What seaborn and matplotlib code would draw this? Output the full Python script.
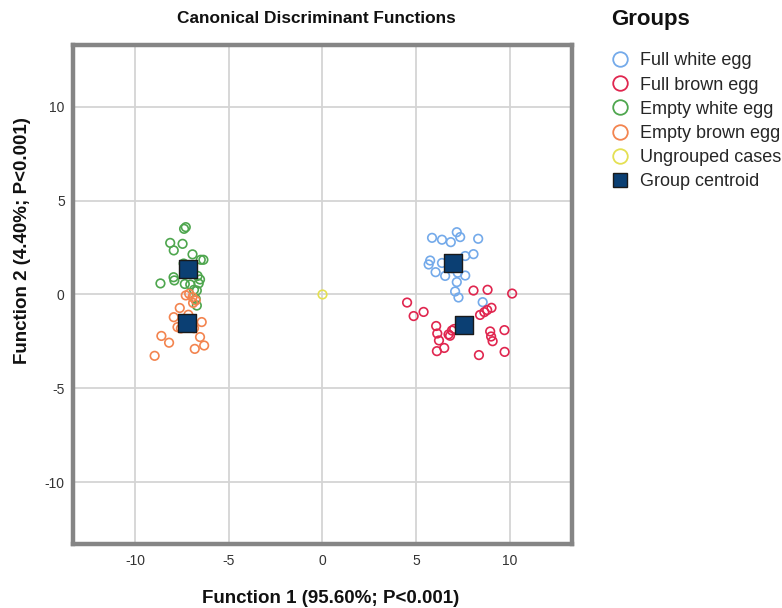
import matplotlib
matplotlib.use("Agg")
import matplotlib.pyplot as plt
from matplotlib.lines import Line2D
import seaborn as sns
import pandas as pd

# ---- data ----
groups = ["Full white egg", "Full brown egg", "Empty white egg", "Empty brown egg", "Ungrouped cases"]

full_white_x = [5.84, 6.37, 6.84, 7.16, 7.34, 8.30, 5.74, 5.66, 6.37, 6.03, 6.54, 7.21, 7.61, 8.05, 7.61, 7.16, 7.07, 7.25, 8.54, 6.90]
full_white_y = [3.02, 2.92, 2.79, 3.32, 3.06, 2.97, 1.81, 1.60, 1.68, 1.19, 0.99, 1.16, 2.05, 2.15, 1.01, 0.66, 0.16, -0.16, -0.41, 1.40]

full_brown_x = [4.51, 4.86, 5.39, 8.05, 8.80, 10.11, 9.01, 8.78, 8.63, 8.40, 6.06, 6.12, 6.21, 6.72, 6.90, 7.02, 8.94, 8.99, 9.07, 9.70, 6.10, 6.49, 8.34, 9.71, 6.80]
full_brown_y = [-0.43, -1.15, -0.93, 0.21, 0.25, 0.05, -0.71, -0.83, -0.94, -1.09, -1.68, -2.08, -2.45, -2.13, -1.92, -1.84, -1.97, -2.24, -2.49, -1.90, -3.02, -2.85, -3.23, -3.06, -2.20]

empty_white_x = [-7.38, -7.29, -8.12, -7.46, -7.93, -6.93, -6.49, -6.35, -8.64, -7.94, -7.90, -7.34, -6.66, -6.53, -6.60, -7.05, -6.85, -6.70, -6.76, -6.70, -7.40]
empty_white_y = [3.50, 3.59, 2.75, 2.70, 2.35, 2.14, 1.85, 1.85, 0.59, 0.92, 0.75, 0.56, 0.99, 0.80, 0.59, 0.53, 0.25, 0.21, -0.23, -0.59, 1.65]

empty_brown_x = [-7.11, -7.29, -6.93, -6.76, -6.90, -7.61, -7.93, -7.15, -7.73, -7.55, -6.85, -6.44, -8.59, -8.18, -6.53, -6.31, -6.81, -8.95]
empty_brown_y = [0.04, -0.05, -0.14, -0.32, -0.45, -0.72, -1.21, -1.08, -1.74, -1.81, -1.80, -1.47, -2.21, -2.57, -2.27, -2.72, -2.90, -3.27]

ungrouped_x = [0.0]
ungrouped_y = [0.0]

centroid_x = [6.97, 7.55, -7.18, -7.23]
centroid_y = [1.67, -1.65, 1.37, -1.51]

x_ticks = [-10, -5, 0, 5, 10]
y_ticks = [-10, -5, 0, 5, 10]

colors = ["#74aaea", "#e0264f", "#4ea64e", "#f3844f", "#e4e052"]
centroid_color = "#0b3f73"

# ---- build table ----
frames = []
for g, xs, ys in zip(groups,
                     [full_white_x, full_brown_x, empty_white_x, empty_brown_x, ungrouped_x],
                     [full_white_y, full_brown_y, empty_white_y, empty_brown_y, ungrouped_y]):
    frames.append(pd.DataFrame({"f1": xs, "f2": ys, "group": g}))
df = pd.concat(frames, ignore_index=True)
cent = pd.DataFrame({"f1": centroid_x, "f2": centroid_y})

sns.set_theme(style="white")
plt.rcParams["font.family"] = ["Liberation Sans", "DejaVu Sans"]

fig = plt.figure(figsize=(7.82, 6.08), dpi=100)
ax = fig.add_axes([0.0934, 0.1053, 0.638, 0.8207])

for g, c in zip(groups, colors):
    sub = df[df["group"] == g]
    sns.scatterplot(data=sub, x="f1", y="f2", ax=ax, s=38, marker="o",
                    color=c, linewidth=1.2, legend=False, zorder=3)
    coll = ax.collections[-1]
    coll.set_facecolor("none")
    coll.set_edgecolor(c)

sns.scatterplot(data=cent, x="f1", y="f2", ax=ax, s=150, marker="s",
                color=centroid_color, edgecolor="#1a1a1a", linewidth=1.0,
                legend=False, zorder=4)

ax.set_xlim(-13.3, 13.3)
ax.set_ylim(-13.3, 13.3)
ax.set_xticks(x_ticks)
ax.set_yticks(y_ticks)
ax.set_xticklabels([str(t) for t in x_ticks])
ax.set_yticklabels([str(t) for t in y_ticks])
ax.tick_params(axis="both", length=0, labelsize=10, colors="#333333")
ax.tick_params(axis="x", pad=7)
ax.tick_params(axis="y", pad=6)
ax.grid(True, color="#d4d4d4", linewidth=1.3)
ax.set_axisbelow(True)
for sp in ax.spines.values():
    sp.set_visible(True)
    sp.set_color("#858585")
    sp.set_linewidth(3.2)

ax.set_xlabel("Function 1 (95.60%; P<0.001)", fontsize=13.5, fontweight="bold",
              labelpad=16, color="#111111", x=0.517)
ax.set_ylabel("Function 2 (4.40%; P<0.001)", fontsize=13.5, fontweight="bold",
              color="#111111")
ax.yaxis.set_label_coords(-0.084, 0.609)
ax.set_title("Canonical Discriminant Functions", fontsize=12.4, fontweight="bold",
             pad=16, color="#111111", x=0.487)

handles = []
for g, c in zip(groups, colors):
    handles.append(Line2D([], [], marker="o", linestyle="none", markersize=10.5,
                          markerfacecolor="none", markeredgecolor=c,
                          markeredgewidth=1.3, label=g))
handles.append(Line2D([], [], marker="s", linestyle="none", markersize=10.5,
                      markerfacecolor=centroid_color, markeredgecolor="#1a1a1a",
                      markeredgewidth=1.0, label="Group centroid"))
leg = fig.legend(handles=handles, loc="upper left", bbox_to_anchor=(0.781, 0.914),
                 frameon=False, fontsize=13, handletextpad=0.6, labelspacing=0.4,
                 handlelength=1.0, borderaxespad=0, borderpad=0)
fig.text(0.782, 0.986, "Groups", fontsize=16, fontweight="bold", va="top",
         ha="left", color="#111111")

fig.savefig("out.png", dpi=100)
